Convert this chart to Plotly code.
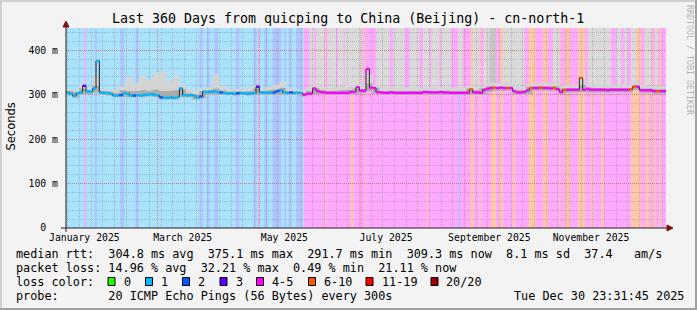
import datetime as dt
import plotly.graph_objects as go

# ---------------- data ----------------
START = dt.datetime(2025, 1, 4, 23, 31, 45)
END = dt.datetime(2025, 12, 30, 23, 31, 45)
SPAN_DAYS = 360
Y_MAX = 450

STEP_DAYS = 2  # median samples, one every 2 days
median_rtt = [
    305, 302, 297, 303, 305, 320, 307, 307, 314, 376,
    305, 304, 304, 302, 298, 298, 299, 303, 302, 298,
    298, 299, 298, 300, 300, 301, 300, 299, 294, 293,
    293, 294, 293, 295, 314, 299, 298, 299, 298, 293,
    296, 307, 306, 307, 307, 306, 305, 304, 303, 303,
    302, 303, 304, 303, 302, 303, 303, 318, 305, 305,
    304, 305, 305, 308, 310, 305, 304, 305, 304, 305,
    304, 300, 302, 302, 314, 308, 306, 305, 304, 304,
    304, 304, 304, 304, 304, 306, 306, 317, 309, 309,
    358, 316, 315, 306, 305, 304, 304, 305, 304, 304,
    304, 304, 304, 304, 304, 304, 304, 306, 306, 305,
    305, 305, 306, 305, 305, 304, 304, 304, 304, 304,
    304, 312, 305, 305, 304, 311, 313, 315, 316, 315,
    316, 315, 315, 315, 308, 305, 305, 306, 310, 315,
    315, 315, 316, 315, 315, 314, 315, 312, 306, 311,
    311, 311, 311, 311, 338, 311, 313, 311, 311, 311,
    311, 311, 310, 311, 311, 311, 311, 311, 311, 312,
    318, 318, 310, 310, 310, 310, 308, 308, 308, 308,
]
# loss level of each median sample: 1, 2, 3, 4 (=4-5), 6 (=6-10)
median_loss = list(
    "1111131111" "1111112111" "2111111121" "1111111111" "2111112111"
    "1211111311" "1122111211" "1444444444" "4444444444" "4444444444"
    "4444444444" "4444444444" "4644444464" "4464444446" "4464446446"
    "4444644444" "4444444446" "6444444644"
)

SMOKE_STEP = 4  # smoke samples, one every 4 days
smoke_low = [
    298, 293, 300, 302, 305, 300, 298, 294, 295, 294,
    294, 294, 296, 295, 289, 289, 289, 294, 294, 289,
    292, 301, 301, 300, 299, 298, 299, 298, 299, 300,
    300, 300, 300, 300, 300, 296, 298, 302, 301, 300,
    300, 300, 300, 302, 304, 308, 302, 300, 300, 300,
    300, 300, 300, 300, 300, 300, 300, 300, 300, 300,
    300, 300, 300, 306, 309, 309, 309, 301, 300, 302,
    309, 309, 309, 309, 302, 305, 305, 306, 305, 305,
    305, 305, 305, 305, 305, 310, 304, 304, 302, 302,
]
smoke_mid = [
    309, 306, 314, 310, 320, 308, 307, 304, 310, 308,
    308, 310, 309, 311, 308, 308, 310, 312, 303, 301,
    308, 310, 314, 310, 307, 307, 307, 308, 314, 308,
    310, 312, 315, 308, 307, 304, 308, 315, 310, 308,
    309, 310, 311, 314, 313, 325, 316, 308, 309, 308,
    308, 308, 308, 308, 308, 308, 308, 308, 308, 308,
    314, 310, 314, 319, 318, 318, 318, 310, 310, 318,
    319, 319, 319, 319, 314, 315, 315, 322, 316, 315,
    315, 315, 315, 315, 315, 322, 314, 314, 312, 312,
]
smoke_high = [
    312, 310, 324, 314, 340, 312, 311, 312, 320, 338,
    326, 344, 334, 348, 352, 330, 343, 324, 312, 308,
    314, 316, 346, 320, 313, 312, 313, 314, 320, 314,
    318, 322, 330, 314, 312, 310, 316, 322, 316, 314,
    318, 318, 322, 325, 322, 345, 322, 316, 316, 316,
    316, 316, 316, 316, 316, 316, 316, 316, 316, 316,
    320, 316, 320, 326, 326, 326, 326, 318, 316, 324,
    326, 326, 326, 326, 320, 322, 322, 342, 322, 322,
    322, 322, 322, 322, 322, 332, 322, 320, 320, 320,
]

# background bands coloured by packet loss: (start day, end day, loss level)
loss_bands = [
    (0.0, 142.7, "1"), (142.7, 360.0, "4"),
    (10.9, 11.9, "4"), (17.3, 18.5, "2"), (32.6, 34.9, "2"), (41.7, 43.3, "2"),
    (80.0, 82.0, "2"), (84.6, 86.2, "2"), (89.0, 91.0, "2"), (102.0, 104.0, "2"),
    (112.7, 114.3, "2"), (115.3, 116.0, "4"), (119.0, 121.0, "2"), (124.0, 129.0, "2"),
    (131.0, 132.0, "2"), (134.0, 135.5, "2"), (138.0, 142.0, "2"),
    (155.5, 156.1, "6"), (171.0, 172.5, "6"), (179.5, 180.1, "6"), (216.6, 217.3, "6"),
    (235.5, 236.5, "2"),
    (242.7, 244.8, "6"), (248.0, 249.0, "6"), (255.0, 258.1, "6"), (260.1, 262.1, "6"),
    (268.0, 269.5, "6"), (277.5, 282.1, "6"), (286.1, 289.1, "6"), (296.0, 296.8, "6"),
    (299.5, 302.5, "6"), (307.1, 311.5, "6"), (315.0, 316.5, "6"), (321.0, 322.5, "6"),
    (339.1, 345.1, "6"), (347.5, 349.5, "6"), (350.5, 352.0, "6"), (353.3, 354.2, "6"),
    (356.0, 357.0, "6"),
]
# periods where the smoke (slowest pings) runs off the top of the graph
smoke_to_top = [
    (146.0, 149.0), (150.0, 155.0), (157.0, 162.0), (163.0, 166.5), (167.1, 178.1),
    (186.1, 194.1), (196.1, 203.1), (206.1, 212.1), (214.1, 218.1), (219.1, 224.1),
    (225.1, 231.1), (235.1, 238.1), (244.1, 248.1), (250.5, 254.1), (262.1, 275.1),
    (292.1, 296.1), (313.1, 327.1), (330.1, 333.1), (335.1, 337.1), (339.1, 342.1),
    (347.1, 351.1), (353.3, 355.1),
]
smoke_to_top_dark = [(254.1, 258.1)]

y_tick_vals = [0, 100, 200, 300, 400]
y_tick_text = ["0\u00a0\u00a0", "100 m", "200 m", "300 m", "400 m"]
x_label_dates = [dt.datetime(2025, m, 16) for m in (1, 3, 5, 7, 9, 11)]
x_label_text = ["January 2025", "March 2025", "May 2025", "July 2025",
                "September 2025", "November 2025"]
major_grid_dates = [dt.datetime(2025, m, 1) for m in (3, 5, 7, 9, 11)]
minor_grid_dates = [dt.datetime(2025, 1, 6) + dt.timedelta(days=7 * k) for k in range(52)]

legend_rows = [
    "median rtt:  304.8 ms avg  375.1 ms max  291.7 ms min  309.3 ms now  8.1 ms sd  37.4   am/s",
    "packet loss: 14.96 % avg  32.21 % max  0.49 % min  21.11 % now",
    "loss color:",
    "probe:       20 ICMP Echo Pings (56 Bytes) every 300s",
]
loss_legend = [("0", "#26ff00"), ("1", "#00b8ff"), ("2", "#0059ff"), ("3", "#5e00ff"),
               ("4-5", "#ff00ff"), ("6-10", "#ff5500"), ("11-19", "#ff0000"), ("20/20", "#a10000")]
timestamp = "Tue Dec 30 23:31:45 2025"
title = "Last 360 Days from quicping to China (Beijing) - cn-north-1"

LINE_COLORS = {"1": "#00b8ff", "2": "#0059ff", "3": "#5e00ff", "4": "#ff00ff", "6": "#ff5500"}
BAND_COLORS = {"1": "#aae3fd", "2": "#b0c4ff", "3": "#c9aaff", "4": "#ffaaff", "6": "#ffc8aa"}

# ---------------- helpers ----------------
W, H = 697, 310
ML, MR, MT, MB = 66, 31, 28, 82
PW, PH = W - ML - MR, H - MT - MB


def t(d):
    return START + dt.timedelta(days=d)


def px(X):
    return (X - ML) / PW


def py(Y):
    return (H - MB - Y) / PH


MONO = "DejaVu Sans Mono"
fig = go.Figure()
shapes = []

# background loss bands
for d0, d1, lv in loss_bands:
    shapes.append(dict(type="rect", xref="x", yref="y", x0=t(d0), x1=t(d1), y0=0, y1=Y_MAX,
                       fillcolor=BAND_COLORS[lv], line=dict(width=0), layer="below"))
# smoke running to the top
for segs, col in ((smoke_to_top, "#dadada"), (smoke_to_top_dark, "#c6c6c6")):
    for d0, d1 in segs:
        base = median_rtt[min(int(d0 // STEP_DAYS), len(median_rtt) - 1)]
        shapes.append(dict(type="rect", xref="x", yref="y", x0=t(d0), x1=t(d1), y0=base, y1=Y_MAX,
                           fillcolor=col, line=dict(width=0), layer="below"))
# major vertical grid
for d in major_grid_dates:
    shapes.append(dict(type="line", xref="x", yref="y", x0=d, x1=d, y0=0, y1=Y_MAX,
                       line=dict(color="rgba(224,80,80,0.6)", width=1, dash="1px,1px"), layer="below"))

# smoke (step shaped, one column per smoke sample)
sx = [t(SMOKE_STEP * j) for j in range(len(smoke_low))] + [t(SPAN_DAYS)]
lo = smoke_low + [smoke_low[-1]]
mi = smoke_mid + [smoke_mid[-1]]
hi = smoke_high + [smoke_high[-1]]
fig.add_trace(go.Scatter(x=sx, y=lo, mode="lines", line=dict(width=0, shape="hv"), hoverinfo="skip"))
fig.add_trace(go.Scatter(x=sx, y=hi, mode="lines", line=dict(width=0, shape="hv"), fill="tonexty",
                         fillcolor="#d4d4d4", hoverinfo="skip"))
fig.add_trace(go.Scatter(x=sx, y=lo, mode="lines", line=dict(width=0, shape="hv"), hoverinfo="skip"))
fig.add_trace(go.Scatter(x=sx, y=mi, mode="lines", line=dict(width=0, shape="hv"), fill="tonexty",
                         fillcolor="#acacac", hoverinfo="skip"))

# median: thin dark step line + coloured loss segments
mx = [t(STEP_DAYS * i) for i in range(len(median_rtt))] + [t(SPAN_DAYS)]
fig.add_trace(go.Scatter(x=mx, y=median_rtt + [median_rtt[-1]], mode="lines",
                         line=dict(color="#202020", width=1, shape="hv"), hoverinfo="skip"))
for lv, col in LINE_COLORS.items():
    xs, ys = [], []
    for i, (v, l) in enumerate(zip(median_rtt, median_loss)):
        if l == lv:
            xs += [t(STEP_DAYS * i), t(STEP_DAYS * (i + 1)), None]
            ys += [v, v, None]
    if xs:
        fig.add_trace(go.Scatter(x=xs, y=ys, mode="lines", line=dict(color=col, width=2.4),
                                 hoverinfo="skip"))

# axes lines and arrows
AX = "#202020"
shapes += [
    dict(type="line", xref="paper", yref="paper", x0=px(61), x1=px(670), y0=0, y1=0,
         line=dict(color=AX, width=1), layer="above"),
    dict(type="line", xref="paper", yref="paper", x0=0, x1=0, y0=py(232), y1=py(25),
         line=dict(color=AX, width=1), layer="above"),
    dict(type="path", xref="paper", yref="paper",
         path=f"M{px(63)},{py(27)} L{px(69)},{py(27)} L{px(66)},{py(21)} Z",
         fillcolor="#801010", line=dict(color="#801010", width=1), layer="above"),
    dict(type="path", xref="paper", yref="paper",
         path=f"M{px(667)},{py(225)} L{px(667)},{py(231)} L{px(673)},{py(228)} Z",
         fillcolor="#801010", line=dict(color="#801010", width=1), layer="above"),
]
# image frame
shapes += [
    dict(type="line", xref="paper", yref="paper", x0=px(0), x1=px(697), y0=py(1), y1=py(1),
         line=dict(color="#d0d0d0", width=2), layer="above"),
    dict(type="line", xref="paper", yref="paper", x0=px(1), x1=px(1), y0=py(0), y1=py(310),
         line=dict(color="#d0d0d0", width=2), layer="above"),
    dict(type="line", xref="paper", yref="paper", x0=px(0), x1=px(697), y0=py(309), y1=py(309),
         line=dict(color="#a0a0a0", width=2), layer="above"),
    dict(type="line", xref="paper", yref="paper", x0=px(696), x1=px(696), y0=py(0), y1=py(310),
         line=dict(color="#a0a0a0", width=2), layer="above"),
]

# legend swatches
swatch_left = [108, 145.5, 182.5, 220, 256.5, 308.5, 366, 431]
ann = []
for (lab, col), xl in zip(loss_legend, swatch_left):
    shapes.append(dict(type="rect", xref="paper", yref="paper", x0=px(xl), x1=px(xl + 7),
                       y0=py(285.5), y1=py(277.5), fillcolor=col,
                       line=dict(color="#000000", width=1), layer="above"))
    ann.append(dict(text=lab, x=px(xl + 14.5), y=py(281.5), xanchor="left", yanchor="middle"))

row_y = [254, 268, 281.5, 295.5]
for txt, yy in zip(legend_rows, row_y):
    ann.append(dict(text=txt.replace(" ", "\u00a0"), x=px(15), y=py(yy),
                    xanchor="left", yanchor="middle"))
ann.append(dict(text=timestamp.replace(" ", "\u00a0"), x=px(512.5), y=py(295.5),
                xanchor="left", yanchor="middle"))
annotations = []
for a in ann:
    a.update(xref="paper", yref="paper", showarrow=False, borderpad=0,
             font=dict(family=MONO, size=11.8, color="#000000"))
    annotations.append(a)
annotations.append(dict(text=title, x=px(347.5), y=py(18.5), xref="paper", yref="paper",
                        showarrow=False, xanchor="center", yanchor="middle", borderpad=0,
                        font=dict(family=MONO, size=13.3, color="#000000")))
annotations.append(dict(text="Seconds", x=px(10.5), y=py(127), xref="paper", yref="paper",
                        showarrow=False, textangle=-90, xanchor="center", yanchor="middle",
                        font=dict(family="DejaVu Sans", size=11.5, color="#000000")))
annotations.append(dict(text="RRDTOOL / TOBI OETIKER", x=px(690), y=py(60), xref="paper",
                        yref="paper", showarrow=False, textangle=90, xanchor="center",
                        yanchor="middle", font=dict(family=MONO, size=8.3, color="#b4b4b4")))

fig.update_layout(
    width=W, height=H, margin=dict(l=ML, r=MR, t=MT, b=MB, pad=0),
    paper_bgcolor="#f3f3f3", plot_bgcolor="#ffffff", showlegend=False,
    shapes=shapes, annotations=annotations,
    font=dict(family=MONO, size=10, color="#000000"),
)
fig.update_xaxes(
    type="date", range=[START, END], tickmode="array", tickvals=x_label_dates,
    ticktext=x_label_text, ticks="", showgrid=False, zeroline=False, showline=False,
    tickfont=dict(family=MONO, size=9.8, color="#000000"), fixedrange=True,
    ticklabelstandoff=2,
    minor=dict(tickmode="array", tickvals=[d for d in minor_grid_dates if d not in major_grid_dates],
               showgrid=True, gridcolor="rgba(144,144,144,0.5)", griddash="1px,1px",
               gridwidth=1, ticks=""),
)
fig.update_yaxes(
    range=[0, Y_MAX], tickmode="array", tickvals=y_tick_vals, ticktext=y_tick_text,
    ticks="", showgrid=True, gridcolor="rgba(224,80,80,0.6)", griddash="1px,1px", gridwidth=1,
    zeroline=False, showline=False, fixedrange=True, ticklabelstandoff=7,
    tickfont=dict(family=MONO, size=9.8, color="#000000"),
    minor=dict(dtick=20, showgrid=True, gridcolor="rgba(144,144,144,0.5)",
               griddash="1px,1px", gridwidth=1, ticks=""),
)
fig.write_html("out.html")
